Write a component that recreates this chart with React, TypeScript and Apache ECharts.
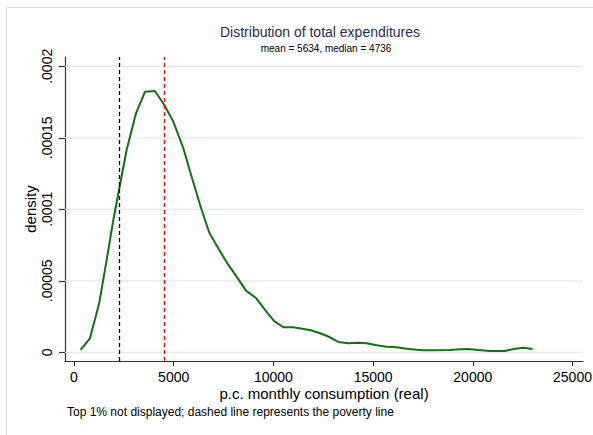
import React, { useEffect, useRef } from "react";
import * as echarts from "echarts";

const consumption = [
  336, 802, 1270, 1638, 1973, 2273, 2641, 3110, 3561, 4062, 4530, 4982, 5484,
  5900, 6352, 6786, 7237, 7689, 8158, 8626, 9127, 9579, 10040, 10497, 10998,
  11880, 12337, 12839, 13255, 13757, 14177, 14679, 15181, 15682, 16184, 16685,
  17187, 17520, 18019, 18857, 19358, 19774, 20276, 20863, 21615, 22116, 22533,
  23004,
];
const density = [
  1.6e-6, 9.8e-6, 3.47e-5, 6.45e-5, 9.25e-5, 1.147e-4, 1.415e-4, 1.671e-4,
  1.822e-4, 1.827e-4, 1.729e-4, 1.613e-4, 1.427e-4, 1.228e-4, 1.018e-4,
  8.36e-5, 7.27e-5, 6.22e-5, 5.29e-5, 4.31e-5, 3.8e-5, 2.96e-5, 2.18e-5,
  1.75e-5, 1.75e-5, 1.54e-5, 1.33e-5, 1.05e-5, 7.2e-6, 6.3e-6, 6.7e-6, 6.3e-6,
  4.9e-6, 3.9e-6, 3.5e-6, 2.5e-6, 1.8e-6, 1.4e-6, 1.4e-6, 1.6e-6, 2.1e-6,
  2.3e-6, 1.6e-6, 9e-7, 9e-7, 2.5e-6, 3.2e-6, 2.3e-6,
];
const xTicks = [0, 5000, 10000, 15000, 20000, 25000];
const yTicks = [0, 0.00005, 0.0001, 0.00015, 0.0002];
const povertyLine = 2272;
const medianLine = 4530;
const xMin = -450;
const xMax = 25526;
const yMin = -0.0000061;
const yMax = 0.0002065;

const titleText = "Distribution of total expenditures";
const subtitleText = "mean = 5634, median = 4736";
const noteText = "Top 1% not displayed; dashed line represents the poverty line";
const xName = "p.c. monthly consumption (real)";
const yName = "density";

const FONT = "'Liberation Sans', Arial, sans-serif";

function stataFmt(v: number): string {
  if (v === 0) return "0";
  const s = v.toFixed(6).replace(/0+$/, "");
  return s.replace(/^0/, "");
}

export default function App() {
  const ref = useRef<HTMLDivElement>(null);
  useEffect(() => {
    if (!ref.current) return;
    const chart = echarts.init(ref.current, undefined, { renderer: "svg" });
    const gridSeries = yTicks.map((v) => ({
      type: "line",
      data: [
        [xMin, v],
        [xMax, v],
      ],
      showSymbol: false,
      symbol: "none",
      silent: true,
      z: 1,
      lineStyle: { color: "#e0ebee", width: 1.3 },
    }));
    chart.setOption({
      animation: false,
      backgroundColor: "#ffffff",
      textStyle: { fontFamily: FONT },
      graphic: [
        {
          type: "rect",
          shape: { x: 6.5, y: 7.5, width: 620, height: 460 },
          style: { fill: "none", stroke: "#dedede", lineWidth: 1 },
          silent: true,
        },
        {
          type: "text",
          x: 320,
          y: 32,
          style: {
            text: titleText,
            fill: "#1f2d5a",
            font: `14px ${FONT}`,
            textAlign: "center",
            textVerticalAlign: "middle",
          },
        },
        {
          type: "text",
          x: 326,
          y: 48,
          style: {
            text: subtitleText,
            fill: "#000000",
            font: `10px ${FONT}`,
            textAlign: "center",
            textVerticalAlign: "middle",
          },
        },
        {
          type: "text",
          x: 67,
          y: 412,
          style: {
            text: noteText,
            fill: "#000000",
            font: `12px ${FONT}`,
            textAlign: "left",
            textVerticalAlign: "middle",
          },
        },
      ],
      grid: {
        left: 65,
        right: 10,
        top: 57,
        bottom: 74,
        containLabel: false,
        outerBoundsMode: "none",
      },
      xAxis: {
        type: "value",
        min: xMin,
        max: xMax,
        name: xName,
        nameLocation: "middle",
        nameGap: 25,
        nameMoveOverlap: false,
        nameTextStyle: { fontSize: 15, color: "#000", fontFamily: FONT },
        axisLine: { show: true, onZero: false, lineStyle: { color: "#333", width: 1.2 } },
        axisTick: { show: true, length: 5, customValues: xTicks, lineStyle: { color: "#333", width: 1.2 } },
        axisLabel: {
          customValues: xTicks,
          margin: 9,
          fontSize: 14,
          color: "#000",
          fontFamily: FONT,
          formatter: (v: number) => String(v),
        },
        splitLine: { show: false },
      },
      yAxis: {
        type: "value",
        min: yMin,
        max: yMax,
        name: yName,
        nameLocation: "middle",
        nameGap: 27,
        nameRotate: 90,
        nameMoveOverlap: false,
        nameTextStyle: { fontSize: 15, color: "#000", fontFamily: FONT },
        axisLine: { show: true, onZero: false, lineStyle: { color: "#333", width: 1.2 } },
        axisTick: { show: true, length: 6, customValues: yTicks, lineStyle: { color: "#333", width: 1.2 } },
        axisLabel: {
          customValues: yTicks,
          rotate: 90,
          margin: 11,
          fontSize: 14,
          color: "#000",
          fontFamily: FONT,
          formatter: (v: number) => stataFmt(v),
        },
        splitLine: { show: false },
      },
      series: [
        ...gridSeries,
        {
          type: "line",
          data: consumption.map((x, i) => [x, density[i]]),
          showSymbol: false,
          symbol: "none",
          lineStyle: { color: "#137013", width: 2 },
          z: 3,
          markLine: {
            silent: true,
            symbol: "none",
            label: { show: false },
            data: [
              { xAxis: povertyLine, lineStyle: { color: "#000000", type: [4, 3], width: 1.3 } },
              { xAxis: medianLine, lineStyle: { color: "#ff0000", type: [4, 3], width: 1.3 } },
            ],
          },
        },
      ],
    });
    return () => chart.dispose();
  }, []);
  return (
    <div
      ref={ref}
      style={{ position: "fixed", left: 0, top: 0, width: 593, height: 435 }}
    />
  );
}
